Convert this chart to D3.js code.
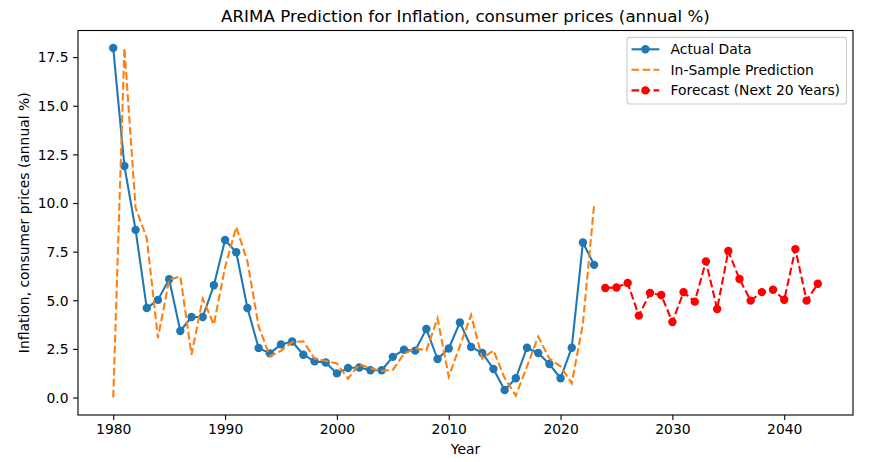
<!DOCTYPE html>
<html>
<head>
<meta charset="utf-8">
<script src="https://cdn.jsdelivr.net/npm/d3@7"></script>
<style>
  body { margin: 0; background: #fff; }
  svg { display: block; }
  text { font-family: "DejaVu Sans", sans-serif; fill: #000; }
</style>
</head>
<body>
<svg id="chart" width="894" height="462"></svg>
<script>
// ---- data ----
const actualYears = d3.range(1980, 2024);
const actualValues = [17.97, 11.9, 8.62, 4.6, 5.02, 6.08, 3.42, 4.14, 4.14, 5.77,
  8.1, 7.47, 4.6, 2.55, 2.27, 2.73, 2.88, 2.2, 1.86, 1.8,
  1.24, 1.52, 1.54, 1.4, 1.4, 2.09, 2.46, 2.41, 3.52, 1.98,
  2.52, 3.86, 2.6, 2.29, 1.47, 0.39, 0.99, 2.56, 2.29, 1.72,
  0.99, 2.56, 7.97, 6.82];
const predValues = [0.0, 17.97, 9.75, 8.2, 3.06, 6.06, 6.23, 2.2, 5.08, 3.75,
  6.7, 8.76, 7.0, 3.66, 2.12, 2.4, 2.85, 2.89, 2.0, 1.88,
  1.75, 0.97, 1.72, 1.5, 1.37, 1.42, 2.25, 2.53, 2.42, 4.07,
  1.07, 2.65, 4.24, 2.0, 2.42, 1.0, 0.1, 1.6, 3.13, 2.0,
  1.6, 0.73, 3.8, 9.9];
const forecastYears = d3.range(2024, 2044);
const forecastValues = [5.63, 5.66, 5.89, 4.21, 5.37, 5.27, 3.88, 5.42, 4.93, 7.0,
  4.55, 7.53, 6.09, 4.98, 5.42, 5.54, 5.03, 7.63, 4.98, 5.85];
const xTicks = [1980, 1990, 2000, 2010, 2020, 2030, 2040];
const yTicks = [0, 2.5, 5, 7.5, 10, 12.5, 15, 17.5];
const legendLabels = ["Actual Data", "In-Sample Prediction", "Forecast (Next 20 Years)"];

// ---- layout ----
const svg = d3.select("#chart");
const L = 78, R = 853, T = 30.5, B = 415;

const allYears = actualYears.concat(forecastYears);
const allVals = actualValues.concat(predValues, forecastValues);
const xExt = d3.extent(allYears), yExt = d3.extent(allVals);
const xm = (xExt[1] - xExt[0]) * 0.05, ym = (yExt[1] - yExt[0]) * 0.05;
const x = d3.scaleLinear().domain([xExt[0] - xm, xExt[1] + xm]).range([L, R]);
const y = d3.scaleLinear().domain([yExt[0] - ym, yExt[1] + ym]).range([B, T]);

const blue = "#1f77b4", orange = "#ff7f0e", red = "#ff0000";

// axes
const xAxis = d3.axisBottom(x).tickValues(xTicks).tickFormat(d3.format("d")).tickSizeOuter(0).tickSize(4.9).tickPadding(4.5);
const yAxis = d3.axisLeft(y).tickValues(yTicks).tickFormat(d3.format(".1f")).tickSizeOuter(0).tickSize(4.9).tickPadding(4.5);

const gx = svg.append("g").attr("transform", `translate(0,${B})`).call(xAxis);
const gy = svg.append("g").attr("transform", `translate(${L},0)`).call(yAxis);
[gx, gy].forEach(g => {
  g.select(".domain").remove();
  g.selectAll(".tick line").attr("stroke", "#000").attr("stroke-width", 1.1);
  g.selectAll(".tick text").attr("font-size", "13.9px").attr("fill", "#000")
    .attr("font-family", "DejaVu Sans, sans-serif");
});
gy.selectAll(".tick text").attr("dy", "0.35em");

// data lines
const line = (xs, vs) => d3.line().x((d, i) => x(xs[i])).y(d => y(d))(vs);

const clip = svg.append("clipPath").attr("id", "clip").append("rect")
  .attr("x", L).attr("y", T).attr("width", R - L).attr("height", B - T);
const plot = svg.append("g").attr("clip-path", "url(#clip)");

plot.append("path").attr("d", line(actualYears, actualValues))
  .attr("fill", "none").attr("stroke", blue).attr("stroke-width", 2.08).attr("stroke-linejoin", "round");
plot.selectAll(".am").data(actualValues).enter().append("circle")
  .attr("cx", (d, i) => x(actualYears[i])).attr("cy", d => y(d)).attr("r", 4.2).attr("fill", blue);

plot.append("path").attr("d", line(actualYears, predValues))
  .attr("fill", "none").attr("stroke", orange).attr("stroke-width", 2.08)
  .attr("stroke-dasharray", "7.7,3.3");

plot.append("path").attr("d", line(forecastYears, forecastValues))
  .attr("fill", "none").attr("stroke", red).attr("stroke-width", 2.08)
  .attr("stroke-dasharray", "7.7,3.3");
plot.selectAll(".fm").data(forecastValues).enter().append("circle")
  .attr("cx", (d, i) => x(forecastYears[i])).attr("cy", d => y(d)).attr("r", 4.2).attr("fill", red);

// frame
svg.append("rect").attr("x", L).attr("y", T).attr("width", R - L).attr("height", B - T)
  .attr("fill", "none").attr("stroke", "#000").attr("stroke-width", 1.1);

// titles
svg.append("text").attr("x", (L + R) / 2).attr("y", 21.5).attr("text-anchor", "middle")
  .attr("font-size", "16.7px").text("ARIMA Prediction for Inflation, consumer prices (annual %)");
svg.append("text").attr("x", (L + R) / 2).attr("y", 454).attr("text-anchor", "middle")
  .attr("font-size", "13.9px").text("Year");
svg.append("text").attr("transform", `translate(29,${(T + B) / 2}) rotate(-90)`).attr("text-anchor", "middle")
  .attr("font-size", "13.9px").text("Inflation, consumer prices (annual %)");

// legend
const lg = svg.append("g");
lg.append("rect").attr("x", 627).attr("y", 37.4).attr("width", 219.5).attr("height", 66.6)
  .attr("rx", 2.8).attr("fill", "#fff").attr("fill-opacity", 0.8)
  .attr("stroke", "#cccccc").attr("stroke-width", 1.1);
const rowsY = [49.3, 69.8, 90.4];
const styles = [
  {c: blue, dash: null, marker: true},
  {c: orange, dash: "7.7,3.3", marker: false},
  {c: red, dash: "7.7,3.3", marker: true}
];
legendLabels.forEach((lab, i) => {
  const s = styles[i];
  const ln = lg.append("line").attr("x1", 631.5).attr("x2", 659.3).attr("y1", rowsY[i]).attr("y2", rowsY[i])
    .attr("stroke", s.c).attr("stroke-width", 2.08);
  if (s.dash) ln.attr("stroke-dasharray", s.dash);
  if (s.marker) lg.append("circle").attr("cx", 645.4).attr("cy", rowsY[i]).attr("r", 4.2).attr("fill", s.c);
  lg.append("text").attr("x", 670.5).attr("y", rowsY[i] + 5).attr("font-size", "13.9px").text(lab);
});
</script>
</body>
</html>
